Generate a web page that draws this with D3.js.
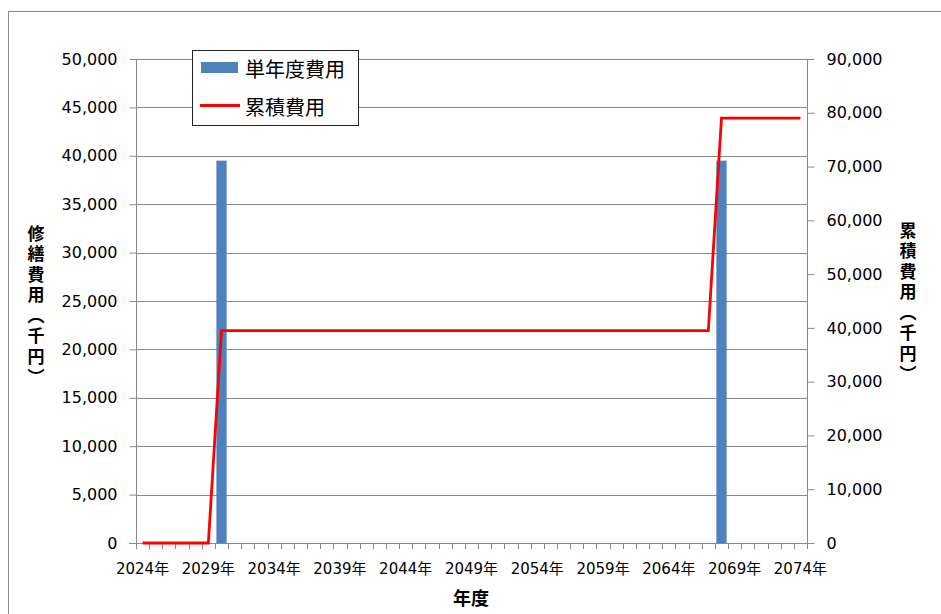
<!DOCTYPE html>
<html><head><meta charset="utf-8">
<script src="https://cdn.jsdelivr.net/npm/d3@7"></script>
<style>
html,body{margin:0;padding:0;background:#fff;}
svg{display:block;}
text{font-family:"DejaVu Sans","Noto Sans CJK JP",sans-serif;fill:#000;}
.cjk{font-family:"Noto Sans CJK JP",sans-serif;}
</style></head><body>
<svg id="chart" width="941" height="614"></svg>
<script>
const years = [2024,2025,2026,2027,2028,2029,2030,2031,2032,2033,2034,2035,2036,2037,2038,2039,2040,2041,2042,2043,2044,2045,2046,2047,2048,2049,2050,2051,2052,2053,2054,2055,2056,2057,2058,2059,2060,2061,2062,2063,2064,2065,2066,2067,2068,2069,2070,2071,2072,2073,2074];
const annualCost = [0,0,0,0,0,0,39500,0,0,0,0,0,0,0,0,0,0,0,0,0,0,0,0,0,0,0,0,0,0,0,0,0,0,0,0,0,0,0,0,0,0,0,0,0,39500,0,0,0,0,0,0];
const cumulativeCost = [0,0,0,0,0,0,39500,39500,39500,39500,39500,39500,39500,39500,39500,39500,39500,39500,39500,39500,39500,39500,39500,39500,39500,39500,39500,39500,39500,39500,39500,39500,39500,39500,39500,39500,39500,39500,39500,39500,39500,39500,39500,39500,79000,79000,79000,79000,79000,79000,79000];
const xTickYears = [2024,2029,2034,2039,2044,2049,2054,2059,2064,2069,2074];
const leftTicks = [0,5000,10000,15000,20000,25000,30000,35000,40000,45000,50000];
const rightTicks = [0,10000,20000,30000,40000,50000,60000,70000,80000,90000];
const seriesNames = ["単年度費用","累積費用"];
const leftTitle = "修繕費用（千円）";
const rightTitle = "累積費用（千円）";
const xTitle = "年度";

const svg = d3.select("#chart");
const L = 136, R = 807, T = 59, B = 543;
const gridColor = "#898989";
const blue = "#4F81BD", red = "#FF0000";

// outer frame
svg.append("rect").attr("x",8.5).attr("y",11.5).attr("width",960).attr("height",640)
  .attr("fill","none").attr("stroke","#8c8c8c").attr("stroke-width",1);

const x = d3.scaleBand().domain(years).range([L,R]).padding(0);
const yL = d3.scaleLinear().domain([0,50000]).range([B,T]);
const yR = d3.scaleLinear().domain([0,90000]).range([B,T]);
const fmt = d3.format(",");

// gridlines
svg.append("g").selectAll("line").data(leftTicks.filter(d=>d>0)).join("line")
  .attr("x1",L).attr("x2",R).attr("y1",d=>Math.round(yL(d))+0.5).attr("y2",d=>Math.round(yL(d))+0.5)
  .attr("stroke",gridColor).attr("stroke-width",1);

// bars
const bw = x.bandwidth()*0.78;
svg.append("g").selectAll("rect").data(years.map((y,i)=>({y,v:annualCost[i]})).filter(d=>d.v>0)).join("rect")
  .attr("x",d=>x(d.y)+x.bandwidth()/2-bw/2).attr("width",bw)
  .attr("y",d=>yL(d.v)).attr("height",d=>B-yL(d.v)).attr("fill",blue);

// left axis
const gL = svg.append("g").attr("transform",`translate(${L+0.5},0)`)
  .call(d3.axisLeft(yL).tickValues(leftTicks).tickFormat(fmt).tickSize(7).tickPadding(12));
// right axis
const gR = svg.append("g").attr("transform",`translate(${R+0.5},0)`)
  .call(d3.axisRight(yR).tickValues(rightTicks).tickFormat(fmt).tickSize(7).tickPadding(12));
// bottom axis
const boundaries = years.map(y=>x(y)).concat([R]);
const gB = svg.append("g");
gB.append("line").attr("x1",L-7).attr("x2",R).attr("y1",B+0.5).attr("y2",B+0.5).attr("stroke",gridColor);
gB.selectAll("line.t").data(boundaries).join("line").attr("class","t")
  .attr("x1",d=>Math.round(d)+0.5).attr("x2",d=>Math.round(d)+0.5).attr("y1",B).attr("y2",B+6)
  .attr("stroke",gridColor);
gB.selectAll("text").data(xTickYears).join("text")
  .attr("x",d=>x(d)+x.bandwidth()/2).attr("y",574).attr("text-anchor","middle")
  .style("font-size","15px").text(d=>d+"年");

[gL,gR].forEach(g=>{
  g.selectAll(".tick line").attr("stroke",gridColor);
  g.selectAll(".tick text").style("font-size","16px").style("font-family",'"DejaVu Sans","Noto Sans CJK JP",sans-serif');
});
gL.select(".domain").remove(); gR.select(".domain").remove();
svg.append("line").attr("x1",L+0.5).attr("x2",L+0.5).attr("y1",T).attr("y2",B).attr("stroke",gridColor);
svg.append("line").attr("x1",R+0.5).attr("x2",R+0.5).attr("y1",T).attr("y2",B).attr("stroke",gridColor);

// cumulative line
const line = d3.line().x((d,i)=>x(years[i])+x.bandwidth()/2).y(d=>yR(d));
svg.append("path").datum(cumulativeCost).attr("d",line)
  .attr("fill","none").attr("stroke",red).attr("stroke-width",2.8).attr("stroke-linejoin","miter");

// axis titles
svg.append("text").attr("class","cjk").attr("x",36).attr("y",225)
  .style("writing-mode","vertical-rl").style("font-size","17px").style("font-weight","bold")
  .style("letter-spacing","3.5px").text(leftTitle);
svg.append("text").attr("class","cjk").attr("x",908).attr("y",222)
  .style("writing-mode","vertical-rl").style("font-size","17px").style("font-weight","bold")
  .style("letter-spacing","3.5px").text(rightTitle);
svg.append("text").attr("class","cjk").attr("x",471).attr("y",605).attr("text-anchor","middle")
  .style("font-size","18px").style("font-weight","bold").text(xTitle);

// legend
const lg = svg.append("g");
lg.append("rect").attr("x",192.5).attr("y",50.5).attr("width",166).attr("height",75)
  .attr("fill","#fff").attr("stroke","#222").attr("stroke-width",1);
lg.append("rect").attr("x",201).attr("y",62).attr("width",37).attr("height",11).attr("fill",blue);
lg.append("line").attr("x1",200).attr("x2",240).attr("y1",105.5).attr("y2",105.5).attr("stroke",red).attr("stroke-width",3);
lg.append("text").attr("class","cjk").attr("x",245).attr("y",68).attr("dominant-baseline","central")
  .style("font-size","20px").text(seriesNames[0]);
lg.append("text").attr("class","cjk").attr("x",245).attr("y",106).attr("dominant-baseline","central")
  .style("font-size","20px").text(seriesNames[1]);
</script>
</body></html>
